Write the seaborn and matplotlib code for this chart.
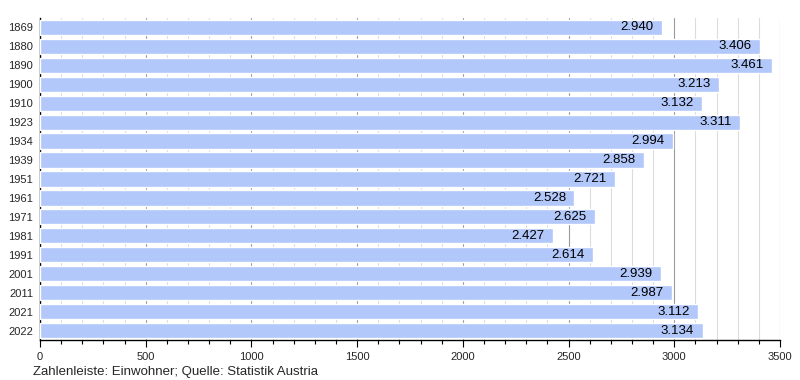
import matplotlib
matplotlib.use("Agg")
import matplotlib.pyplot as plt
import seaborn as sns
import pandas as pd
from matplotlib.ticker import MultipleLocator

years = ["1869", "1880", "1890", "1900", "1910", "1923", "1934", "1939", "1951",
         "1961", "1971", "1981", "1991", "2001", "2011", "2021", "2022"]
population = [2940, 3406, 3461, 3213, 3132, 3311, 2994, 2858, 2721,
              2528, 2625, 2427, 2614, 2939, 2987, 3112, 3134]

df = pd.DataFrame({"year": years, "pop": population})

sns.set_style("white")
plt.rcParams["font.family"] = ["Liberation Sans", "DejaVu Sans"]

fig = plt.figure(figsize=(8, 3.8), dpi=100)
ax = fig.add_axes([0.05, 0.105, 0.925, 0.848])

sns.barplot(data=df, x="pop", y="year", orient="h", color="#b3c8fa",
            width=0.8, ax=ax, zorder=3, saturation=1)

ax.set_xlim(0, 3500)
ax.set_ylim(len(years) - 0.5, -0.5)
ax.xaxis.set_major_locator(MultipleLocator(500))
ax.xaxis.set_minor_locator(MultipleLocator(100))
ax.grid(which="major", axis="x", color="#9a9a9a", linewidth=0.8, zorder=0)
ax.grid(which="minor", axis="x", color="#dcdcdc", linewidth=0.8, zorder=0)
ax.set_axisbelow(True)
ax.set_xlabel("")
ax.set_ylabel("")

for s in ["top", "right"]:
    ax.spines[s].set_visible(False)
ax.spines["left"].set_color("black")
ax.spines["bottom"].set_color("black")
ax.spines["left"].set_linewidth(1)
ax.spines["bottom"].set_linewidth(1)

ax.tick_params(axis="x", which="major", length=5, width=0.8, labelsize=8, direction="out", color="black", bottom=True)
ax.tick_params(axis="x", which="minor", length=3, width=0.8, direction="out", color="black", bottom=True)
ax.tick_params(axis="y", length=0, labelsize=8, pad=5)

for i, v in enumerate(population):
    label = f"{v:,}".replace(",", ".")
    ax.text(v - 40, i, label, ha="right", va="center", fontsize=9.5, color="black", zorder=4)

fig.text(0.041, 0.005, "Zahlenleiste: Einwohner; Quelle: Statistik Austria", fontsize=9.5, ha="left", va="bottom")

fig.savefig("out.png", dpi=100)
